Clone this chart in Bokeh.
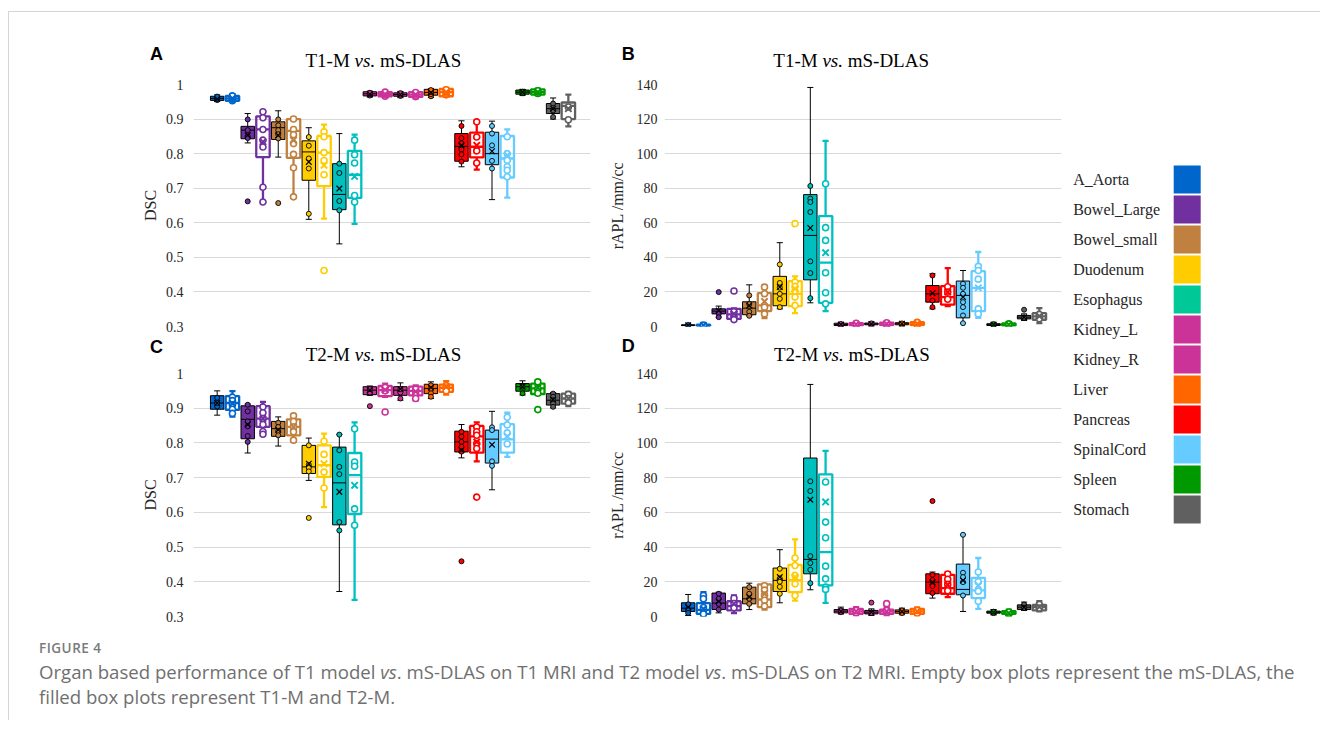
from bokeh.plotting import figure
from bokeh.models import ColumnDataSource, Range1d, FixedTicker, Div, NumeralTickFormatter
from bokeh.layouts import row, column
from bokeh.core.properties import value
from bokeh.embed import file_html
from bokeh.resources import INLINE

# ---------------- data ----------------
organs = ["A_Aorta", "Bowel_Large", "Bowel_small", "Duodenum", "Esophagus", "Kidney_L",
          "Kidney_R", "Liver", "Pancreas", "SpinalCord", "Spleen", "Stomach"]
box_colors = ["#0066CC", "#7030A0", "#C0803F", "#FFCC00", "#00BFBF", "#CC3399",
              "#CC3399", "#FF6600", "#FF0000", "#66CCFF", "#009900", "#606060"]
legend_colors = ["#0066CC", "#7030A0", "#C0803F", "#FFCC00", "#00C896", "#CC3399",
                 "#CC3399", "#FF6600", "#FF0000", "#66CCFF", "#009900", "#606060"]
# each list: per organ [T-M (filled), mS-DLAS (empty)]

dsc_ticks = [0.3, 0.4, 0.5, 0.6, 0.7, 0.8, 0.9, 1.0]
apl_ticks = [0, 20, 40, 60, 80, 100, 120, 140]

# Panel A: T1-M vs mS-DLAS, DSC
A_lo = [0.952, 0.950, 0.831, 0.660, 0.790, 0.675, 0.610, 0.612, 0.539, 0.597, 0.964, 0.962,
        0.962, 0.960, 0.962, 0.965, 0.762, 0.754, 0.667, 0.673, 0.968, 0.969, 0.900, 0.879]
A_q1 = [0.954, 0.953, 0.843, 0.790, 0.841, 0.788, 0.723, 0.706, 0.638, 0.672, 0.967, 0.966,
        0.966, 0.964, 0.969, 0.966, 0.778, 0.789, 0.768, 0.731, 0.972, 0.971, 0.916, 0.900]
A_med = [0.960, 0.960, 0.868, 0.870, 0.875, 0.866, 0.805, 0.803, 0.682, 0.739, 0.973, 0.972,
         0.971, 0.971, 0.977, 0.978, 0.821, 0.820, 0.800, 0.786, 0.978, 0.978, 0.930, 0.938]
A_q3 = [0.966, 0.967, 0.879, 0.908, 0.892, 0.900, 0.837, 0.851, 0.771, 0.808, 0.979, 0.978,
        0.976, 0.978, 0.986, 0.987, 0.858, 0.861, 0.862, 0.851, 0.984, 0.986, 0.945, 0.948]
A_hi = [0.970, 0.972, 0.916, 0.923, 0.924, 0.904, 0.875, 0.884, 0.858, 0.855, 0.981, 0.980,
        0.980, 0.980, 0.988, 0.990, 0.895, 0.895, 0.894, 0.870, 0.986, 0.988, 0.961, 0.971]
A_mean = [0.958, 0.960, 0.853, 0.834, 0.853, 0.839, 0.776, 0.766, 0.699, 0.734, 0.972, 0.972,
          0.971, 0.971, 0.977, 0.978, 0.824, 0.824, 0.807, 0.795, 0.978, 0.978, 0.930, 0.930]
A_pts = [[0.955, 0.958, 0.962, 0.965], [0.953, 0.957, 0.960, 0.963, 0.967],
         [0.899, 0.868, 0.850, 0.845, 0.662], [0.921, 0.904, 0.870, 0.839, 0.819, 0.703, 0.660],
         [0.899, 0.882, 0.868, 0.856, 0.844, 0.657], [0.900, 0.870, 0.855, 0.829, 0.798, 0.759, 0.675],
         [0.848, 0.823, 0.786, 0.757, 0.626], [0.863, 0.849, 0.803, 0.780, 0.739, 0.462],
         [0.771, 0.744, 0.663, 0.636], [0.839, 0.797, 0.773, 0.679, 0.660],
         [0.968, 0.972, 0.976], [0.966, 0.970, 0.974, 0.978],
         [0.967, 0.971, 0.975], [0.965, 0.969, 0.973, 0.977],
         [0.966, 0.972, 0.978, 0.984], [0.970, 0.975, 0.980, 0.985],
         [0.880, 0.845, 0.830, 0.812, 0.798, 0.777], [0.892, 0.848, 0.808, 0.773],
         [0.880, 0.858, 0.824, 0.779, 0.757], [0.849, 0.800, 0.781, 0.762, 0.752, 0.733],
         [0.975, 0.979], [0.974, 0.978, 0.982],
         [0.945, 0.925, 0.906], [0.935, 0.898]]

# Panel B: T1-M vs mS-DLAS, rAPL
B_lo = [0.3, 0.3, 5.4, 3.5, 6.2, 4.8, 10.2, 7.7, 13.7, 8.9, 0.2, 0.2,
        0.5, 0.3, 0.5, 0.3, 10.2, 11.8, 1.9, 5.0, 0.2, 0.2, 3.5, 1.9]
B_q1 = [0.5, 0.4, 7.3, 4.4, 6.8, 8.9, 12.0, 11.8, 27.0, 13.7, 0.5, 0.6,
        1.0, 0.8, 1.0, 0.8, 14.1, 12.6, 5.0, 8.9, 0.6, 0.5, 4.4, 3.9]
B_med = [0.7, 0.6, 8.9, 7.0, 10.6, 12.2, 18.9, 18.9, 52.7, 36.9, 1.2, 1.2,
         1.5, 1.5, 1.6, 1.6, 18.9, 17.0, 18.0, 22.4, 1.1, 1.1, 5.4, 5.8]
B_q3 = [1.0, 1.0, 10.2, 10.2, 14.3, 19.3, 29.0, 26.3, 76.3, 63.9, 1.9, 2.0,
        2.0, 2.2, 2.2, 2.5, 23.7, 23.4, 26.3, 32.0, 1.6, 1.8, 6.4, 7.7]
B_hi = [1.2, 1.2, 11.8, 10.5, 24.1, 23.7, 48.5, 29.0, 138.3, 107.4, 2.3, 2.5,
        2.5, 2.8, 2.8, 3.2, 30.5, 33.8, 32.4, 43.1, 2.2, 2.4, 7.3, 10.6]
B_mean = [0.7, 0.7, 9.2, 7.3, 12.2, 14.5, 22.8, 21.8, 57.0, 42.7, 1.2, 1.2,
          1.5, 1.5, 1.6, 1.6, 19.3, 19.9, 17.0, 22.4, 1.1, 1.1, 5.4, 6.0]
B_pts = [[0.5, 0.9], [0.4, 0.8],
         [19.9, 7.3, 5.4], [20.5, 8.5, 5.5, 4.0],
         [18.0, 13.0, 8.5, 6.2], [22.8, 19.0, 11.2, 7.3],
         [35.9, 25.2, 22.5, 18.9, 16.0, 11.2], [59.5, 25.7, 23.2, 20.5, 17.0, 12.2],
         [81.3, 74.0, 72.0, 66.2, 37.7, 30.9, 16.4], [82.6, 57.2, 49.8, 31.1, 19.5, 13.1],
         [0.8, 1.5], [0.8, 1.3, 1.9],
         [1.2, 1.8], [1.0, 1.6, 2.2],
         [1.0, 1.8], [1.0, 1.7, 2.4],
         [29.5, 15.0, 11.2], [23.0, 19.9, 15.8],
         [24.7, 22.4, 18.9, 14.1, 11.2, 6.4, 1.9], [34.8, 32.4, 27.4, 10.2, 7.3],
         [0.8, 1.4], [0.8, 1.5],
         [9.7, 5.0], [7.0, 4.5]]

# Panel C: T2-M vs mS-DLAS, DSC
C_lo = [0.880, 0.876, 0.771, 0.822, 0.791, 0.803, 0.692, 0.615, 0.372, 0.348, 0.937, 0.933,
        0.923, 0.923, 0.928, 0.939, 0.757, 0.747, 0.665, 0.760, 0.938, 0.939, 0.901, 0.906]
C_q1 = [0.897, 0.895, 0.812, 0.846, 0.819, 0.822, 0.712, 0.702, 0.564, 0.595, 0.939, 0.935,
        0.937, 0.937, 0.942, 0.947, 0.774, 0.772, 0.742, 0.772, 0.949, 0.941, 0.909, 0.913]
C_med = [0.915, 0.915, 0.868, 0.870, 0.841, 0.846, 0.731, 0.736, 0.685, 0.707, 0.952, 0.952,
         0.952, 0.950, 0.957, 0.959, 0.803, 0.819, 0.811, 0.810, 0.962, 0.957, 0.923, 0.928]
C_q3 = [0.936, 0.935, 0.907, 0.906, 0.862, 0.868, 0.793, 0.793, 0.788, 0.771, 0.962, 0.964,
        0.962, 0.962, 0.969, 0.968, 0.834, 0.849, 0.837, 0.854, 0.971, 0.971, 0.942, 0.942]
C_hi = [0.950, 0.949, 0.912, 0.918, 0.875, 0.882, 0.814, 0.827, 0.824, 0.859, 0.964, 0.971,
        0.973, 0.966, 0.976, 0.978, 0.853, 0.859, 0.891, 0.887, 0.979, 0.981, 0.945, 0.947]
C_mean = [0.915, 0.914, 0.853, 0.870, 0.838, 0.846, 0.740, 0.740, 0.659, 0.678, 0.952, 0.953,
          0.955, 0.948, 0.960, 0.962, 0.779, 0.803, 0.795, 0.819, 0.962, 0.959, 0.925, 0.928]
C_pts = [[0.905, 0.915, 0.930], [0.932, 0.922, 0.910, 0.897, 0.885],
         [0.910, 0.891, 0.862, 0.848, 0.820, 0.803], [0.904, 0.887, 0.870, 0.853, 0.833, 0.825],
         [0.858, 0.846, 0.834, 0.822], [0.878, 0.862, 0.846, 0.832, 0.808],
         [0.793, 0.737, 0.728, 0.718, 0.584], [0.805, 0.767, 0.716, 0.670],
         [0.824, 0.779, 0.731, 0.710, 0.572, 0.548], [0.841, 0.745, 0.733, 0.610, 0.563],
         [0.945, 0.955, 0.906], [0.950, 0.960, 0.889],
         [0.945, 0.955, 0.928], [0.945, 0.955, 0.928],
         [0.966, 0.955, 0.943, 0.933], [0.965, 0.958, 0.950],
         [0.832, 0.818, 0.803, 0.789, 0.775, 0.459], [0.846, 0.832, 0.822, 0.798, 0.784, 0.644],
         [0.845, 0.837, 0.747, 0.734], [0.874, 0.852, 0.829, 0.797],
         [0.962, 0.943], [0.976, 0.957, 0.943, 0.896],
         [0.942, 0.933, 0.923, 0.913, 0.904], [0.940, 0.928, 0.916]]

# Panel D: T2-M vs mS-DLAS, rAPL
D_lo = [0.6, 0.2, 2.1, 1.9, 4.0, 4.0, 7.9, 9.2, 15.4, 7.9, 1.5, 0.6,
        0.6, 0.6, 1.0, 0.6, 10.6, 11.2, 2.9, 4.4, 1.2, 0.6, 3.5, 2.9]
D_q1 = [2.9, 1.5, 4.0, 3.5, 7.3, 5.4, 14.4, 14.0, 24.6, 17.9, 2.1, 1.5,
        1.5, 1.5, 1.9, 1.5, 13.1, 13.1, 12.5, 10.6, 1.9, 1.5, 4.0, 3.5]
D_med = [4.8, 3.8, 7.7, 6.0, 10.2, 9.8, 20.8, 21.0, 32.9, 37.1, 3.1, 2.9,
         2.5, 2.9, 2.9, 2.9, 19.8, 16.3, 15.6, 15.0, 2.5, 2.3, 5.4, 5.4]
D_q3 = [7.9, 7.7, 13.5, 8.8, 16.9, 18.5, 27.9, 29.8, 91.3, 81.9, 4.0, 4.4,
        3.5, 4.0, 3.8, 4.4, 24.6, 24.0, 30.2, 22.3, 3.1, 3.1, 6.7, 6.7]
D_hi = [12.7, 14.0, 14.0, 12.1, 19.2, 18.8, 38.5, 44.4, 133.7, 95.4, 5.4, 5.4,
        4.4, 5.4, 4.8, 5.2, 25.6, 25.6, 47.1, 33.7, 4.0, 4.0, 8.3, 8.8]
D_mean = [5.4, 4.4, 8.7, 7.3, 11.2, 13.1, 22.7, 22.7, 67.3, 66.0, 3.0, 3.0,
          2.5, 2.9, 2.9, 2.9, 19.8, 18.3, 20.8, 17.9, 2.3, 2.0, 5.4, 5.6]
D_pts = [[7.0, 4.0, 2.0], [12.1, 10.2, 5.2, 1.5],
         [13.1, 10.2, 7.3, 4.0], [10.5, 7.5, 5.0],
         [16.9, 13.1, 10.2, 7.3], [17.7, 15.2, 12.3, 9.4, 6.0],
         [27.5, 21.9, 20.0, 17.1, 13.1], [33.7, 29.4, 23.7, 18.8, 12.1],
         [77.9, 72.3, 34.8, 30.8, 26.9, 19.2], [77.5, 54.4, 45.4, 29.0, 21.7, 16.9, 15.6],
         [2.5, 3.5], [2.3, 3.5],
         [2.0, 8.0], [2.5, 3.5, 7.4],
         [2.0, 3.5], [2.0, 3.5],
         [66.5, 24.0, 21.0, 17.5, 13.5], [24.5, 21.5, 18.5, 14.8],
         [47.1, 25.2, 22.7, 19.8, 12.1], [25.6, 20.0, 14.6, 8.8],
         [1.9, 2.8], [1.8, 2.6],
         [6.9, 5.0], [7.0, 4.8]]

SERIF = "Liberation Serif"
SANS = "Liberation Sans"


def header(w, h, letter, model, letter_x, letter_top, title_x, title_top):
    """Panel letter and title ("vs." in italic) as an HTML strip above the plot."""
    html = (
        f'<div style="position:relative;width:{w}px;height:{h}px;">'
        f'<span style="position:absolute;left:{letter_x}px;top:{letter_top}px;'
        f'font-family:\'{SANS}\';font-weight:bold;font-size:18px;line-height:18px;'
        f'color:black;white-space:nowrap;">{letter}</span>'
        f'<span style="position:absolute;left:{title_x}px;top:{title_top}px;'
        f'font-family:\'{SERIF}\';font-size:19px;line-height:19px;color:black;'
        f'white-space:nowrap;">{model} <i>vs.</i> mS-DLAS</span></div>')
    return Div(width=w, height=h, text=html, margin=0)


def panel(lo, q1, med, q3, hi, mean, pts, yr, ticks, fmt, ylab,
          w, h, bl, bt, br, bb, lab_standoff, tick_standoff):
    p = figure(width=w, height=h, x_range=Range1d(-1.55, 24.45), y_range=Range1d(*yr),
               output_backend="svg", toolbar_location=None,
               min_border_left=bl, min_border_top=bt, min_border_right=br, min_border_bottom=bb)
    p.outline_line_color = None
    p.background_fill_color = "white"
    p.border_fill_color = "white"
    p.xaxis.visible = False
    p.xgrid.visible = False
    p.ygrid.grid_line_color = "#D9D9D9"
    p.ygrid.grid_line_width = 1
    ax = p.yaxis[0]
    ax.ticker = FixedTicker(ticks=ticks)
    ax.formatter = NumeralTickFormatter(format=fmt)
    ax.axis_line_color = None
    ax.major_tick_line_color = None
    ax.minor_tick_line_color = None
    ax.major_tick_out = 0
    ax.major_tick_in = 0
    ax.major_label_standoff = tick_standoff
    ax.major_label_text_font = SERIF
    ax.major_label_text_font_size = "14px"
    ax.major_label_text_color = "#262626"
    ax.axis_label = ylab
    ax.axis_label_text_font = SERIF
    ax.axis_label_text_font_size = "16px"
    ax.axis_label_text_font_style = "normal"
    ax.axis_label_text_color = "#262626"
    ax.axis_label_standoff = lab_standoff

    n = len(lo)
    xs = list(range(n))
    filled = [i % 2 == 0 for i in xs]
    col = [box_colors[i // 2] for i in xs]
    line = ["black" if f else c for f, c in zip(filled, col)]
    lw = [1.0 if f else 2.3 for f in filled]
    falpha = [1.0 if f else 0.0 for f in filled]

    src = ColumnDataSource(dict(
        x=xs, lo=lo, q1=q1, med=med, q3=q3, hi=hi, mean=mean,
        xl=[x - 0.2 for x in xs], xr=[x + 0.2 for x in xs],
        bl=[x - 0.44 for x in xs], br=[x + 0.44 for x in xs],
        col=col, line=line, lw=lw, falpha=falpha,
        msize=[8 if f else 9 for f in filled], mlw=[1.2 if f else 2.0 for f in filled]))

    p.segment(x0="x", y0="q3", x1="x", y1="hi", source=src, line_color="line", line_width="lw")
    p.segment(x0="x", y0="lo", x1="x", y1="q1", source=src, line_color="line", line_width="lw")
    p.segment(x0="xl", y0="hi", x1="xr", y1="hi", source=src, line_color="line", line_width="lw")
    p.segment(x0="xl", y0="lo", x1="xr", y1="lo", source=src, line_color="line", line_width="lw")
    p.vbar(x="x", width=0.88, bottom="q1", top="q3", source=src, fill_color="col",
           fill_alpha="falpha", line_color="line", line_width="lw")
    p.segment(x0="bl", y0="med", x1="br", y1="med", source=src, line_color="line", line_width="lw")

    px, py, pf, pl, plw, ps = [], [], [], [], [], []
    for i, vals in enumerate(pts):
        for v in vals:
            px.append(i)
            py.append(v)
            if filled[i]:
                pf.append(col[i]); pl.append("black"); plw.append(0.9); ps.append(5)
            else:
                pf.append("white"); pl.append(col[i]); plw.append(1.6); ps.append(6)
    psrc = ColumnDataSource(dict(x=px, y=py, f=pf, l=pl, lw=plw, s=ps))
    p.scatter(x="x", y="y", source=psrc, marker="circle", size="s", fill_color="f",
              line_color="l", line_width="lw")
    p.scatter(x="x", y="mean", source=src, marker="x", size="msize", line_color="line",
              line_width="mlw")
    return p


# Row 1 (A, B): header 64 px, plot 259 px ; Row 2 (C, D): header 30 px, plot 260 px
hA = header(591, 64, "A", "T1-M", 141, 32.8, 296.5, 39.1)
pA = panel(A_lo, A_q1, A_med, A_q3, A_hi, A_mean, A_pts, (0.3, 1.0), dsc_ticks, "0.[0]",
           "DSC", 591, 259, 184, 8, 10, 9, 4, 10)
hB = header(466, 64, "B", "T1-M", 21.7, 32.8, 173.3, 39.4)
pB = panel(B_lo, B_q1, B_med, B_q3, B_hi, B_mean, B_pts, (0, 140), apl_ticks, "0",
           "rAPL /mm/cc", 466, 259, 64, 8, 5, 9, 8, 7)
hC = header(591, 30, "C", "T2-M", 141, 3.1, 296.7, 9.8)
pC = panel(C_lo, C_q1, C_med, C_q3, C_hi, C_mean, C_pts, (0.3, 1.0), dsc_ticks, "0.[0]",
           "DSC", 591, 260, 184, 8, 10, 9, 4, 10)
hD = header(466, 30, "D", "T2-M", 21.7, 1.5, 174, 9.8)
pD = panel(D_lo, D_q1, D_med, D_q3, D_hi, D_mean, D_pts, (0, 140), apl_ticks, "0",
           "rAPL /mm/cc", 466, 260, 64, 8, 5, 9, 8, 7)

# legend panel
LW, LH = 254, 613
leg = figure(width=LW, height=LH, x_range=Range1d(0, LW), y_range=Range1d(LH, 0),
             output_backend="svg", toolbar_location=None, min_border=0)
leg.outline_line_color = None
leg.axis.visible = False
leg.grid.visible = False
row_y = [167 + 30 * i for i in range(len(organs))]
lsrc = ColumnDataSource(dict(y=row_y, name=organs, c=legend_colors))
leg.rect(x=120.7, y="y", width=27, height=28, source=lsrc, fill_color="c", line_color=None)
leg.text(x=6.7, y="y", text="name", source=lsrc, text_font=value(SERIF), text_font_size="16px",
         text_baseline="middle", text_align="left", text_color="#262626")

caption = Div(width=1311, height=95, margin=0, text=(
    '<div style="padding:14px 0 0 30px;font-family:\'Open Sans\';color:#6f6f6f;">'
    '<div style="font-size:13.5px;line-height:18px;font-weight:600;letter-spacing:0.5px;'
    'color:#7a7a7a;">FIGURE 4</div>'
    '<div style="font-size:18.6px;line-height:25px;margin-top:2px;">Organ based performance of T1 model '
    '<i>vs</i>. mS-DLAS on T1 MRI and T2 model <i>vs</i>. mS-DLAS on T2 MRI. Empty box plots represent '
    'the mS-DLAS, the<br>filled box plots represent T1-M and T2-M.</div></div>'))

top = row(column(hA, pA, hC, pC), column(hB, pB, hD, pD), leg)
root = column(top, caption, styles={"border-left": "1px solid #d4d4d4",
                                    "border-top": "1px solid #d4d4d4",
                                    "margin": "11px 0 0 8px"})

open("out.html", "w").write(file_html(root, INLINE))
